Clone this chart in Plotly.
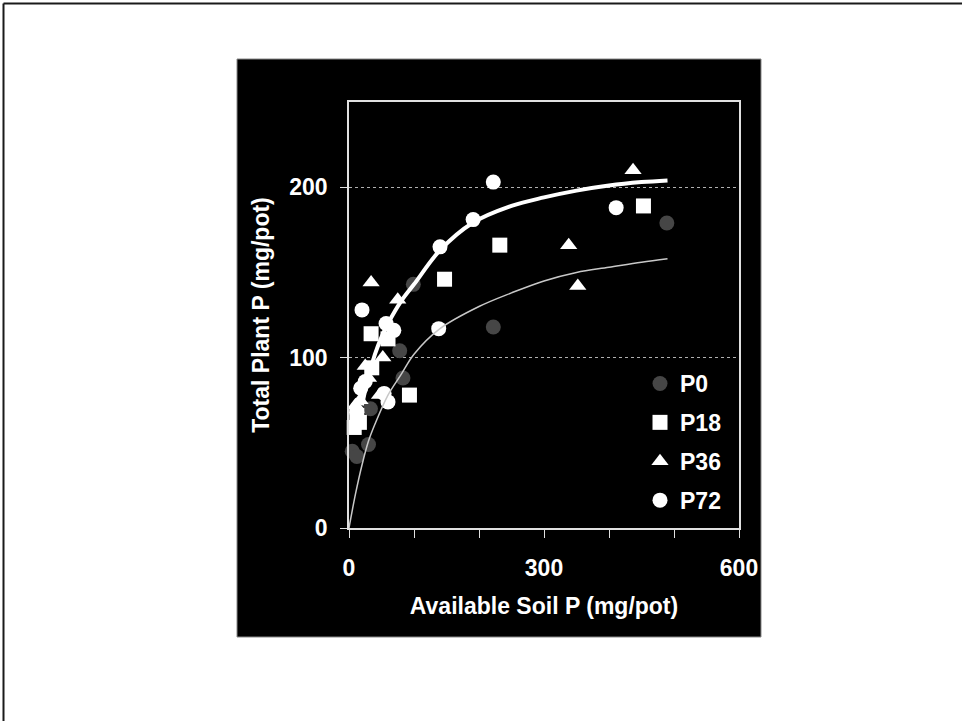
import plotly.graph_objects as go

# ---- data ----
p0_x = [5, 12, 30, 33, 78, 83, 99, 222, 489]
p0_y = [45, 42, 49, 70, 104, 88, 143, 118, 179]

p18_x = [8, 12, 16, 34, 35, 60, 93, 147, 232, 453]
p18_y = [59, 66, 62, 114, 94, 111, 78, 146, 166, 189]

p36_x = [10, 17, 25, 30, 47, 52, 75, 34, 338, 352, 437]
p36_y = [72, 75, 95, 88, 78, 100, 134, 144, 166, 142, 210]

p72_x = [12, 18, 20, 25, 54, 60, 57, 69, 138, 140, 191, 222, 411]
p72_y = [68, 82, 128, 86, 79, 74, 120, 116, 117, 165, 181, 203, 188]

# fitted curves
fit_hi_x = [20, 30, 40, 50, 60, 80, 100, 140, 190, 250, 300, 350, 400, 450, 490]
fit_hi_y = [72, 89, 102, 112, 120, 133, 143, 163, 179, 189, 194, 198, 201, 203, 204]

fit_lo_x = [0, 10, 20, 30, 40, 60, 80, 100, 140, 200, 250, 300, 350, 400, 450, 490]
fit_lo_y = [0, 20, 37, 51, 61, 78, 90, 102, 117, 130, 138, 145, 150, 153, 156, 158]

series_names = ["P0", "P18", "P36", "P72"]
x_tick_vals = [0, 100, 200, 300, 400, 500, 600]
x_tick_text = ["0", "", "", "300", "", "", "600"]
y_tick_vals = [0, 100, 200]
y_tick_text = ["0", "100", "200"]

FONT = "Liberation Sans, Arial, sans-serif"
FS = 23

fig = go.Figure()

marker_specs = [
    (p0_x, p0_y, "circle", "#464646"),
    (p18_x, p18_y, "square", "#ffffff"),
    (p36_x, p36_y, "triangle-up", "#ffffff"),
    (p72_x, p72_y, "circle", "#ffffff"),
]
for name, (xs, ys, sym, col) in zip(series_names, marker_specs):
    fig.add_trace(go.Scatter(
        x=xs, y=ys, mode="markers", name=name, legendgroup=name,
        marker=dict(symbol=sym, size=15, color=col, line=dict(width=0)),
        cliponaxis=False,
    ))

fig.add_trace(go.Scatter(
    x=fit_lo_x, y=fit_lo_y, mode="lines", showlegend=False,
    line=dict(color="#c8c8c8", width=1.5, shape="spline"),
))
fig.add_trace(go.Scatter(
    x=fit_hi_x, y=fit_hi_y, mode="lines", showlegend=False,
    line=dict(color="#ffffff", width=4, shape="spline"),
))

L, R, T, B = 349, 739, 102, 528
W, H = 962, 721
pw, ph = R - L, B - T


def px(xp):
    return (xp - L) / pw


def py(yp):
    return (B - yp) / ph


shapes = [
    # black background panel
    dict(type="rect", xref="paper", yref="paper", layer="below",
         x0=px(237), x1=px(761), y0=py(637), y1=py(59),
         fillcolor="#000000", line=dict(width=1, color="#888888")),
    # outer frame (left and top)
    dict(type="line", xref="paper", yref="paper",
         x0=px(3.5), x1=px(3.5), y0=py(W), y1=py(3.5),
         line=dict(color="#1a1a1a", width=2)),
    dict(type="line", xref="paper", yref="paper",
         x0=px(3.5), x1=px(W + 5), y0=py(3.5), y1=py(3.5),
         line=dict(color="#1a1a1a", width=2)),
]

tfont = dict(family=FONT, size=FS, color="#ffffff", weight="bold")

fig.update_layout(
    width=W, height=H,
    margin=dict(l=L, r=W - R, t=T, b=H - B, pad=0),
    paper_bgcolor="#ffffff",
    plot_bgcolor="#000000",
    font=dict(family=FONT, color="#ffffff", size=FS, weight="bold"),
    shapes=shapes,
    showlegend=True,
    legend=dict(
        x=px(640), xanchor="left", y=py(362), yanchor="top",
        bgcolor="rgba(0,0,0,0)", borderwidth=0,
        font=tfont, tracegroupgap=6,
    ),
    xaxis=dict(
        range=[0, 600], tickmode="array", tickvals=x_tick_vals, ticktext=x_tick_text,
        showgrid=False, zeroline=False,
        showline=True, linecolor="#e0e0e0", linewidth=1.5, mirror=True,
        ticks="outside", ticklen=8, tickwidth=1, tickcolor="#e0e0e0",
        ticklabelstandoff=11,
        tickfont=tfont,
        title=dict(text="Available Soil P (mg/pot)", standoff=18, font=tfont),
    ),
    yaxis=dict(
        range=[0, 250], tickmode="array", tickvals=y_tick_vals, ticktext=y_tick_text,
        showgrid=True, gridcolor="#b0b0b0", griddash="dot", gridwidth=1,
        zeroline=False,
        showline=True, linecolor="#e0e0e0", linewidth=1.5, mirror=True,
        ticks="outside", ticklen=7, tickwidth=1, tickcolor="#e0e0e0",
        ticklabelstandoff=8,
        tickfont=tfont,
        title=dict(text="Total Plant P (mg/pot)", standoff=13, font=tfont),
    ),
)

fig.write_html("out.html")
